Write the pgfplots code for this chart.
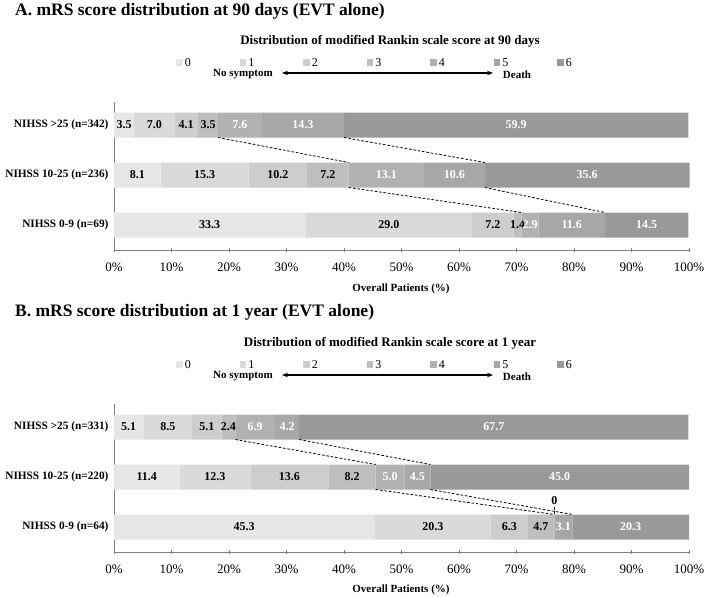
\documentclass[border=0pt]{standalone}
\usepackage{fontspec}
\setmainfont{Liberation Serif}
\usepackage{pgfplots}
\usepackage{pgfplotstable}
\pgfplotsset{compat=1.18}
\usetikzlibrary{arrows.meta}

% grey ramp for mRS 0 (lightest) to 6 (darkest)
\definecolor{m0}{HTML}{E6E6E6}
\definecolor{m1}{HTML}{DADADA}
\definecolor{m2}{HTML}{CDCDCD}
\definecolor{m3}{HTML}{BEBEBE}
\definecolor{m4}{HTML}{B1B1B1}
\definecolor{m5}{HTML}{A7A7A7}
\definecolor{m6}{HTML}{999999}
\definecolor{axisgray}{HTML}{808080}

% percentages per mRS score; y: 0 = NIHSS 0-9, 1 = NIHSS 10-25, 2 = NIHSS >25
\pgfplotstableread{
y m0 m1 m2 m3 m4 m5 m6
0 33.3 29.0 7.2 1.4 2.9 11.6 14.5
1 8.1 15.3 10.2 7.2 13.1 10.6 35.6
2 3.5 7.0 4.1 3.5 7.6 14.3 59.9
}\ninetydays
\pgfplotstableread{
y m0 m1 m2 m3 m4 m5 m6
0 45.3 20.3 6.3 4.7 0.0 3.1 20.3
1 11.4 12.3 13.6 8.2 5.0 4.5 45.0
2 5.1 8.5 5.1 2.4 6.9 4.2 67.7
}\oneyear

\newcommand\fs[1]{\fontsize{#1}{#1}\selectfont}

\pgfplotsset{
  geom/.style={
    scale only axis, width=575bp, height=148bp,
    xmin=0, xmax=100, ymin=-0.5, ymax=2.46, clip=false,
  },
  mrs axis/.style={
    geom,
    xbar stacked,
    bar width=0.5,
    axis x line*=bottom, axis y line*=left,
    axis line style={axisgray, line width=0.9bp},
    xtick={0,10,...,100},
    xticklabel={\pgfmathprintnumber[assume math mode=true]{\tick}\%},
    xticklabel style={font=\fs{13bp}, yshift=-7bp},
    tick style={axisgray, line width=0.8bp},
    major tick length=4bp, tick align=center,
    ytick={0,1,2},
    ytick style={draw=none},
    yticklabel style={font=\fs{11.3bp}\bfseries},
    legend columns=7,
    legend style={draw=none, fill=none, at={(0.454,1.264)}, anchor=center,
      font=\fs{12bp}, inner sep=0pt,
      /tikz/every even column/.append style={column sep=47bp}},
    legend image code/.code={\fill[##1] (0bp,-3bp) rectangle (6.5bp,3.5bp);},
  },
  % overlay axis: value labels and the links between groups
  links/.style={geom, hide axis},
  value label/.style={draw=none, mark=none,
    point meta=explicit,
    nodes near coords={\pgfmathfloatifflags{\pgfplotspointmeta}{0}{}{\pgfmathprintnumber[fixed,fixed zerofill,precision=1,assume math mode=true]{\pgfplotspointmeta}}},
    every node near coord/.append style={anchor=center, font=\fs{12bp}\bfseries, inner sep=0pt, text=#1},
  },
  connector/.style={black, line width=0.8bp, dash pattern=on 2.6bp off 1.8bp},
}

% one stacked segment per mRS score
\newcommand\segment[3]{%
  \addplot[fill=#2, draw=none] table[x=#2, y=y] {#1};
  \addlegendentry{#3}
}
% value label at the middle of a segment: #2 = share of the lower scores
\newcommand\seglabel[4]{%
  \addplot[value label=#4] table[x expr={#2+0.5*\thisrow{#3}}, y=y, meta=#3] {#1};
}
\newcommand\alllabels[1]{%
  \seglabel{#1}{0}{m0}{black}
  \seglabel{#1}{\thisrow{m0}}{m1}{black}
  \seglabel{#1}{\thisrow{m0}+\thisrow{m1}}{m2}{black}
  \seglabel{#1}{\thisrow{m0}+\thisrow{m1}+\thisrow{m2}}{m3}{black}
  \seglabel{#1}{\thisrow{m0}+\thisrow{m1}+\thisrow{m2}+\thisrow{m3}}{m4}{white}
  \seglabel{#1}{\thisrow{m0}+\thisrow{m1}+\thisrow{m2}+\thisrow{m3}+\thisrow{m4}}{m5}{white}
  \seglabel{#1}{\thisrow{m0}+\thisrow{m1}+\thisrow{m2}+\thisrow{m3}+\thisrow{m4}+\thisrow{m5}}{m6}{white}
}

\begin{document}
\begin{tikzpicture}
\path[use as bounding box] (0,0) rectangle (708bp,-597bp);

% ---------------- A: 90 days ----------------
\node[anchor=west, inner sep=0pt, font=\fs{17.5bp}\bfseries] at (15bp,-11bp)
  {A. mRS score distribution at 90 days (EVT alone)};
\node[font=\fs{13bp}\bfseries] at (390bp,-41bp)
  {Distribution of modified Rankin scale score at 90 days};
\draw[{Stealth[length=6bp,width=4.5bp]}-{Stealth[length=6bp,width=4.5bp]}, line width=1.1bp]
  (282bp,-73bp) -- (493bp,-73bp);
\node[font=\fs{11bp}\bfseries] at (243bp,-74bp) {No symptom};
\node[font=\fs{11bp}\bfseries] at (517bp,-75bp) {Death};

\begin{axis}[mrs axis, at={(114bp,-250bp)}, anchor=south west,
  yticklabels={NIHSS 0-9 (n=69), NIHSS 10-25 (n=236), NIHSS >25 (n=342)}]
  \segment{\ninetydays}{m0}{0}
  \segment{\ninetydays}{m1}{1}
  \segment{\ninetydays}{m2}{2}
  \segment{\ninetydays}{m3}{3}
  \segment{\ninetydays}{m4}{4}
  \segment{\ninetydays}{m5}{5}
  \segment{\ninetydays}{m6}{6}
\end{axis}
\begin{axis}[links, at={(114bp,-250bp)}, anchor=south west]
  \alllabels{\ninetydays}
  % links between the mRS 0-3 and mRS 0-5 boundaries of neighbouring groups
  \addplot[connector] coordinates {(18.1,1.75) (40.8,1.25)};
  \addplot[connector] coordinates {(40.0,1.75) (64.5,1.25)};
  \addplot[connector] coordinates {(40.8,0.75) (70.9,0.25)};
  \addplot[connector] coordinates {(64.5,0.75) (85.4,0.25)};
\end{axis}
\node[font=\fs{11bp}\bfseries] at (401bp,-289bp) {Overall Patients (\%)};

% ---------------- B: 1 year ----------------
\node[anchor=west, inner sep=0pt, font=\fs{17.5bp}\bfseries] at (15bp,-312bp)
  {B. mRS score distribution at 1 year (EVT alone)};
\node[font=\fs{13bp}\bfseries] at (390bp,-343bp)
  {Distribution of modified Rankin scale score at 1 year};
\draw[{Stealth[length=6bp,width=4.5bp]}-{Stealth[length=6bp,width=4.5bp]}, line width=1.1bp]
  (282bp,-375bp) -- (493bp,-375bp);
\node[font=\fs{11bp}\bfseries] at (243bp,-376bp) {No symptom};
\node[font=\fs{11bp}\bfseries] at (517bp,-377bp) {Death};

\begin{axis}[mrs axis, at={(114bp,-552bp)}, anchor=south west,
  yticklabels={NIHSS 0-9 (n=64), NIHSS 10-25 (n=220), NIHSS >25 (n=331)}]
  \segment{\oneyear}{m0}{0}
  \segment{\oneyear}{m1}{1}
  \segment{\oneyear}{m2}{2}
  \segment{\oneyear}{m3}{3}
  \segment{\oneyear}{m4}{4}
  \segment{\oneyear}{m5}{5}
  \segment{\oneyear}{m6}{6}
\end{axis}
\begin{axis}[links, at={(114bp,-552bp)}, anchor=south west]
  \alllabels{\oneyear}
  \addplot[connector] coordinates {(21.1,1.75) (45.5,1.25)};
  \addplot[connector] coordinates {(32.2,1.75) (55.0,1.25)};
  \addplot[connector] coordinates {(45.5,0.75) (76.6,0.25)};
  \addplot[connector] coordinates {(55.0,0.75) (79.7,0.25)};
  % mRS 4 is empty in NIHSS 0-9: its zero is written above the bar
  \addplot[connector] coordinates {(76.6,0.26) (76.6,0.42)};
  \node[font=\fs{12bp}\bfseries, inner sep=0pt] at (axis cs:76.6,0.52) {0};
\end{axis}
\node[font=\fs{11bp}\bfseries] at (401bp,-590bp) {Overall Patients (\%)};
\end{tikzpicture}
\end{document}
